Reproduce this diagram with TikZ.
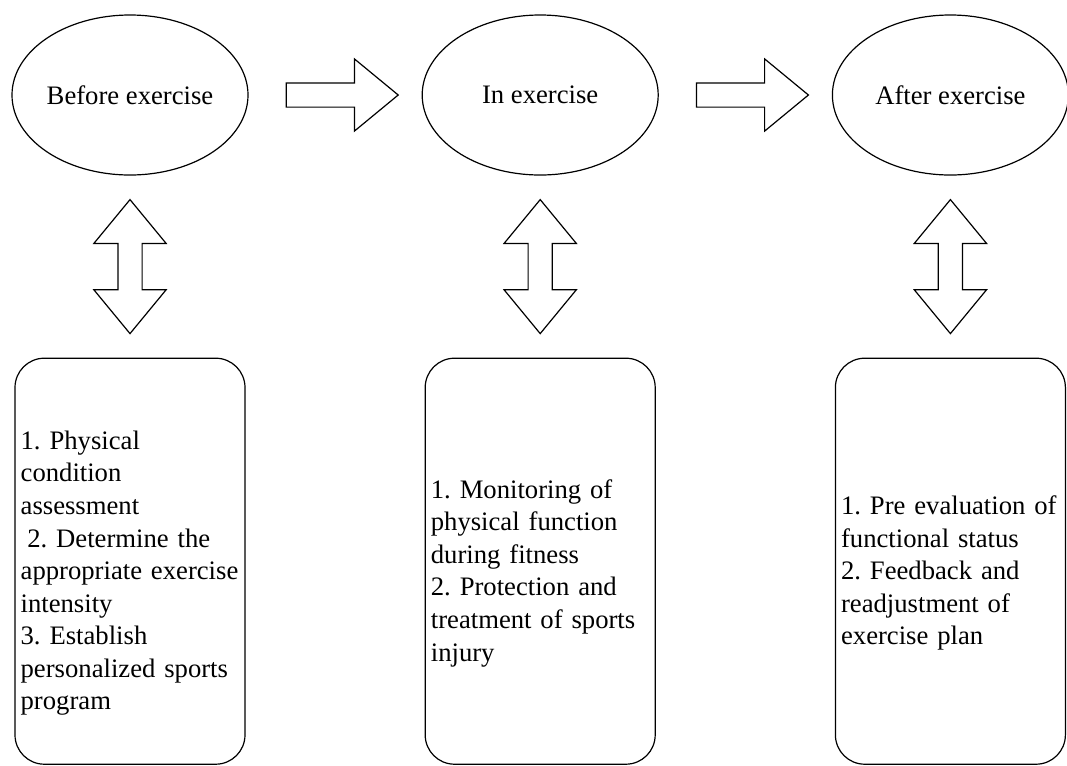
\documentclass[tikz,border=0pt]{standalone}
\usepackage{fontspec}
\setmainfont{Liberation Serif}
\usepackage{tikz}
\usetikzlibrary{positioning, shapes.geometric, shapes.arrows}
\frenchspacing
\tikzset{every node/.append style={font=\fontsize{20pt}{24.4pt}\selectfont}}

\begin{document}
\begin{tikzpicture}[line width=0.9pt,
  phase/.style={draw, ellipse, minimum width=177pt, minimum height=120pt, inner sep=0pt},
  flowArrow/.style={draw, single arrow, minimum height=84pt, inner xsep=0pt, inner ysep=8.625pt, single arrow head extend=18pt, single arrow tip angle=79},
  linkArrow/.style={draw, double arrow, rotate=90, minimum height=100.5pt, inner xsep=0pt, inner ysep=8.625pt, double arrow head extend=18pt, double arrow tip angle=79},
  panel/.style={draw, rounded corners=22pt, minimum width=172.5pt, minimum height=304.5pt},
  panelText/.style={text width=164pt, align=left, inner sep=0pt}]
\useasboundingbox (0,0) rectangle (800.25pt,-573.75pt);
\node[phase] (e1) at (97.5pt,-71.25pt) {Before exercise};
\node[phase, right=129.75pt of e1] (e2) {In exercise};
\node[phase, right=129.75pt of e2] (e3) {After exercise};
\node[flowArrow, right=27.75pt of e1] (a1) {};
\node[flowArrow, right=27.75pt of e2] (a2) {};
\node[linkArrow] (d1) at ([yshift=-68.25pt]e1.south) {};
\node[linkArrow] (d2) at ([yshift=-68.25pt]e2.south) {};
\node[linkArrow] (d3) at ([yshift=-68.25pt]e3.south) {};
\node[panel, below=136.5pt of e1] (b1) {};
\node[panel, below=136.5pt of e2] (b2) {};
\node[panel, below=136.5pt of e3] (b3) {};
\node[panelText] (t1) at ([yshift=-9pt]b1.center) {1. Physical\\condition\\assessment\\\hspace*{5pt}2. Determine the\\appropriate exercise\\intensity\\3. Establish\\personalized sports\\program};
\node[panelText] (t2) at ([yshift=-9pt]b2.center) {1. Monitoring of\\physical function\\during fitness\\2. Protection and\\treatment of sports\\injury};
\node[panelText] (t3) at ([yshift=-9pt]b3.center) {1. Pre evaluation of\\functional status\\2. Feedback and\\readjustment of\\exercise plan};
\end{tikzpicture}
\end{document}
